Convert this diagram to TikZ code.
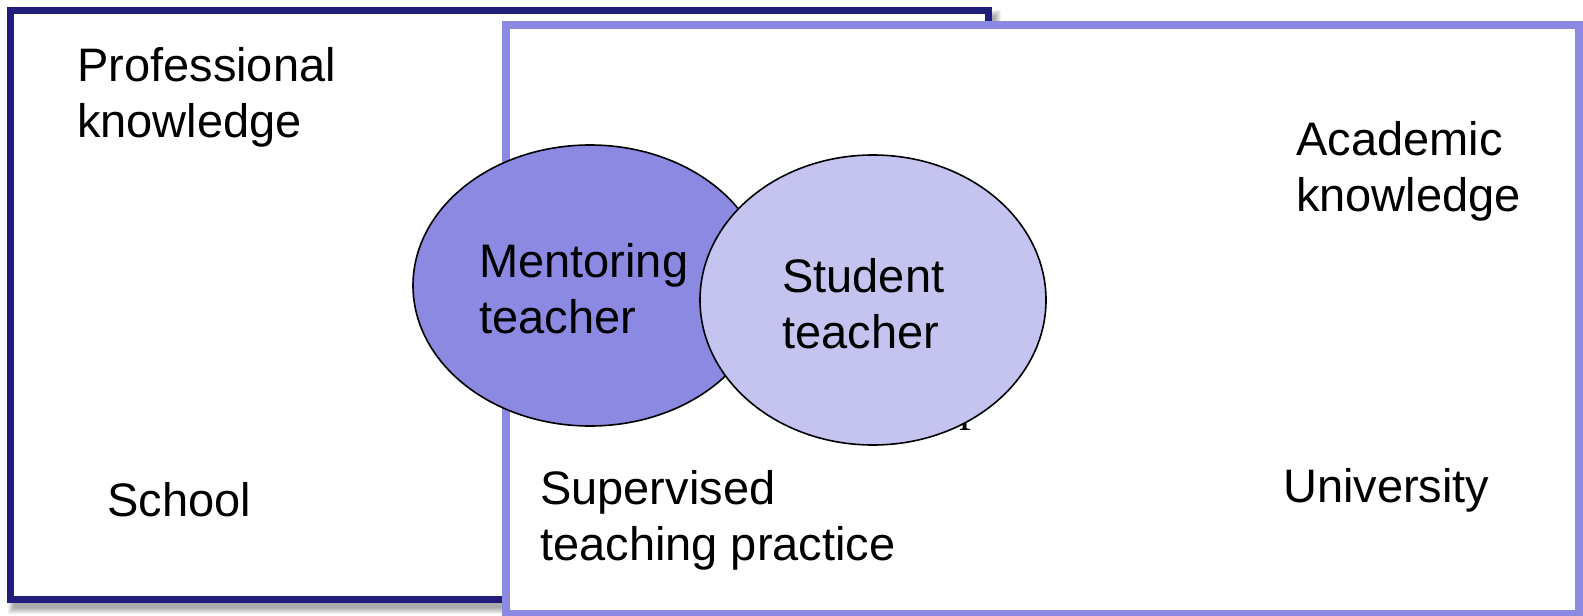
\documentclass[tikz,border=0pt]{standalone}
\usepackage{fontspec}
\setmainfont{Liberation Sans}
\newfontfamily\serifglyph{Liberation Serif}
\usetikzlibrary{shapes.geometric}
\definecolor{navyline}{RGB}{32,30,122}
\definecolor{lilacline}{RGB}{139,137,225}
\definecolor{mentorfill}{RGB}{139,137,225}
\definecolor{studentfill}{RGB}{197,195,240}
\tikzset{
  lbl/.style={anchor=base west, inner sep=0pt, align=left, font=\fontsize{47}{56}\selectfont},
  schoolbox/.style={draw=navyline, line width=7pt, fill=white},
  unibox/.style={draw=lilacline, line width=8pt, fill=white},
  circ/.style={ellipse, draw=black, line width=1.6pt, inner sep=0pt}
}
\begin{document}
\begin{tikzpicture}[x=1pt,y=-1pt]
\useasboundingbox (0,0) rectangle (1583,616);
% soft shadow of the school box
\foreach \g in {0,1,...,6}{
  \fill[black, opacity=0.055] (8+\g,10+\g) rectangle (1001-\g,614-\g);
}
\path[schoolbox] (10.5,10.5) rectangle (988,599.5);
\coordinate (schoolNW) at (10.5,10.5);
\path[unibox] (506,25) rectangle (1579,614);
\coordinate (uniNW) at (506,25);
% texts (anchor = baseline of the last line)
\node[lbl] (prof) at (77,137) {Professional\\knowledge};
\node[lbl] (acad) at (1296,211) {Academic\\knowledge};
\node[lbl] (school) at (107,516) {School};
\node[lbl] (superv) at (540,560) {Supervised\\teaching practice};
\node[lbl] (univ) at (1283,502) {University};
\node[anchor=base west, inner sep=0pt, font=\serifglyph\fontsize{47}{56}\selectfont] (frag) at (959,430) {r};
% ellipses
\node[circ, fill=mentorfill, minimum width=354pt, minimum height=281pt] (mentor) at (590,285.5) {};
\node[circ, fill=studentfill, minimum width=346pt, minimum height=290pt] (student) at (873,300) {};
\node[lbl] (mentortxt) at (479,333) {Mentoring\\teacher};
\node[lbl] (studenttxt) at (782,348) {Student\\teacher};
\end{tikzpicture}
\end{document}
